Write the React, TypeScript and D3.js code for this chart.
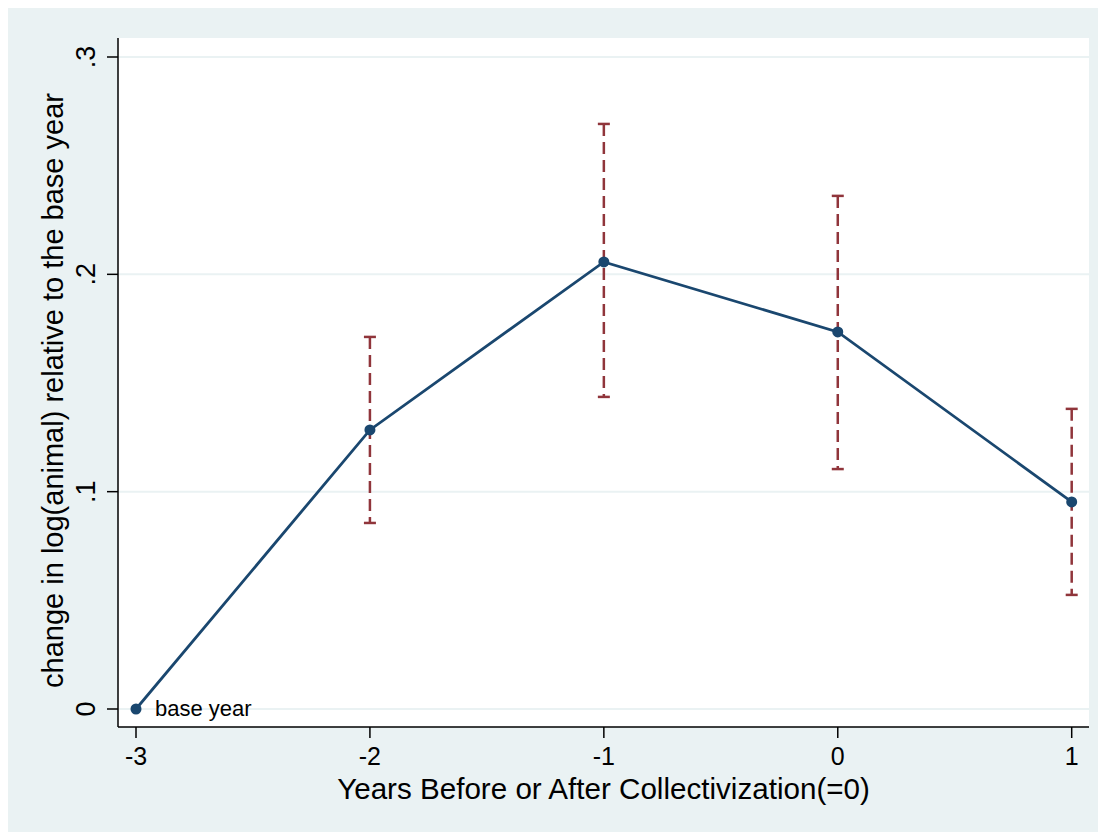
import React from "react"
import * as d3 from "d3"

const years = [-3, -2, -1, 0, 1]
const coef = [0, 0.1284, 0.2057, 0.1735, 0.0953]
const ciLow = [null, 0.0856, 0.1436, 0.1104, 0.0525]
const ciHigh = [null, 0.1712, 0.2692, 0.2361, 0.1381]
const yTicks = [0, 0.1, 0.2, 0.3]
const yTickLabels = ["0", ".1", ".2", ".3"]

const W = 1098
const H = 824
// plot region, in svg coords (svg sits at 8,8 on the page)
const left = 110
const top = 30
const right = 1081
const bottom = 719

const NAVY = "#1a476f"
const MAROON = "#90353b"
const BG = "#eaf2f3"
const FONT = "'Liberation Sans', Arial, sans-serif"

export default function App() {
  const x = d3.scaleLinear().domain([-3, 1]).range([128, 1063.7])
  const y = d3.scaleLinear().domain([0, 0.3]).range([701, 49])

  const line = d3
    .line<number>()
    .x((d, i) => x(years[i]))
    .y((d) => y(d))

  return (
    <svg width={W} height={H} style={{ display: "block" }}>
      <rect x={0} y={0} width={W} height={H} fill={BG} />
      <rect x={left} y={top} width={right - left} height={bottom - top} fill="#ffffff" />
      {yTicks.map((t) => (
        <line key={"g" + t} x1={left} x2={right} y1={y(t)} y2={y(t)} stroke={BG} strokeWidth={2} />
      ))}
      {/* axes */}
      <line x1={left} x2={left} y1={top} y2={bottom} stroke="#000" strokeWidth={1.5} />
      <line x1={left} x2={right} y1={bottom} y2={bottom} stroke="#000" strokeWidth={1.5} />
      {yTicks.map((t, i) => (
        <g key={"yt" + t}>
          <line x1={left - 11} x2={left} y1={y(t)} y2={y(t)} stroke="#000" strokeWidth={1.5} />
          <text
            transform={`translate(${left - 23},${y(t)}) rotate(-90)`}
            textAnchor="middle"
            fontFamily={FONT}
            fontSize={27}
          >
            {yTickLabels[i]}
          </text>
        </g>
      ))}
      {years.map((t) => (
        <g key={"xt" + t}>
          <line x1={x(t)} x2={x(t)} y1={bottom} y2={bottom + 11} stroke="#000" strokeWidth={1.5} />
          <text x={x(t)} y={bottom + 38} textAnchor="middle" fontFamily={FONT} fontSize={25}>
            {t}
          </text>
        </g>
      ))}
      <text x={(left + right) / 2} y={bottom + 72} textAnchor="middle" fontFamily={FONT} fontSize={29.6}>
        Years Before or After Collectivization(=0)
      </text>
      <text
        transform={`translate(55,${(top + bottom) / 2 + 8}) rotate(-90)`}
        textAnchor="middle"
        fontFamily={FONT}
        fontSize={29}
      >
        change in log(animal) relative to the base year
      </text>
      {/* confidence intervals */}
      {years.map((t, i) =>
        ciLow[i] == null ? null : (
          <g key={"ci" + t} stroke={MAROON} strokeWidth={2.5}>
            <line x1={x(t)} x2={x(t)} y1={y(ciHigh[i] as number)} y2={y(ciLow[i] as number)} strokeDasharray="12,6" />
            <line x1={x(t) - 6} x2={x(t) + 6} y1={y(ciHigh[i] as number)} y2={y(ciHigh[i] as number)} />
            <line x1={x(t) - 6} x2={x(t) + 6} y1={y(ciLow[i] as number)} y2={y(ciLow[i] as number)} />
          </g>
        )
      )}
      <path d={line(coef) ?? ""} fill="none" stroke={NAVY} strokeWidth={2.8} />
      {coef.map((c, i) => (
        <circle key={"p" + i} cx={x(years[i])} cy={y(c)} r={5.5} fill={NAVY} />
      ))}
      <text x={x(-3) + 19} y={y(0) + 7} fontFamily={FONT} fontSize={22}>
        base year
      </text>
    </svg>
  )
}
